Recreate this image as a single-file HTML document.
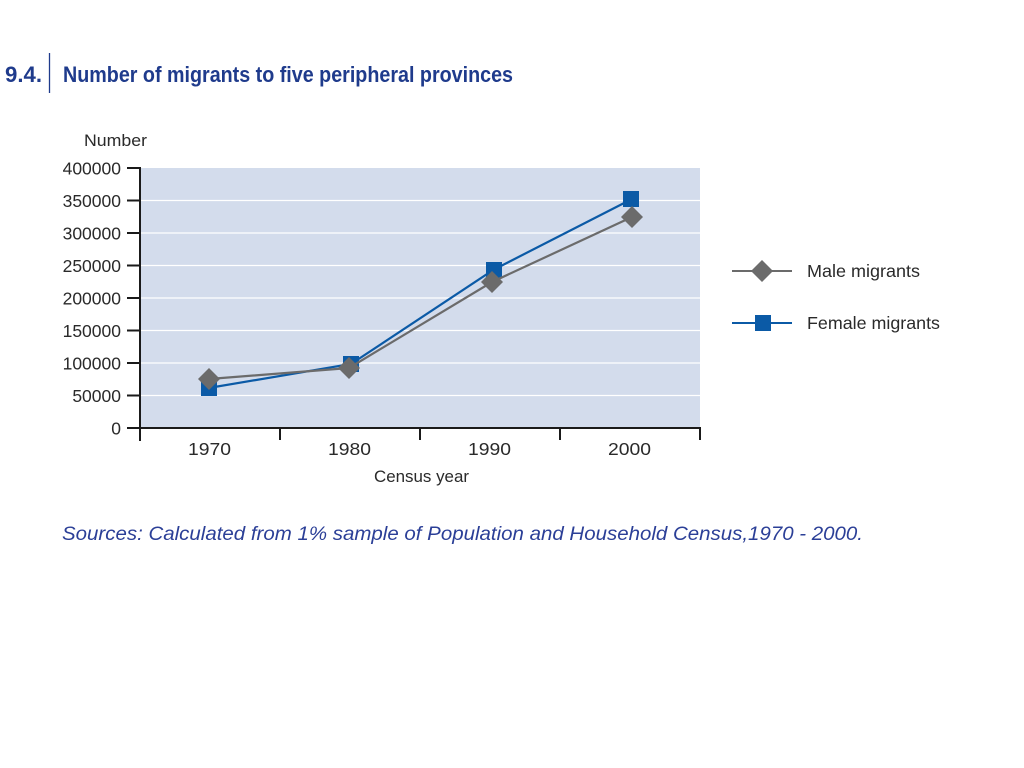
<!DOCTYPE html>
<html>
<head>
<meta charset="utf-8">
<style>
html,body{margin:0;padding:0;background:#fff;}
svg{display:block;}
</style>
</head>
<body>
<svg width="1024" height="768" viewBox="0 0 1024 768" xmlns="http://www.w3.org/2000/svg" font-family="Liberation Sans, sans-serif">
  <!-- Title -->
  <text x="5" y="82" font-size="22" font-weight="bold" fill="#1f3b8c" textLength="37" lengthAdjust="spacingAndGlyphs">9.4.</text>
  <line x1="49.5" y1="53" x2="49.5" y2="93" stroke="#1f3b8c" stroke-width="1.3"/>
  <text x="63" y="82" font-size="22" font-weight="bold" fill="#1f3b8c" textLength="450" lengthAdjust="spacingAndGlyphs">Number of migrants to five peripheral provinces</text>

  <!-- Plot background -->
  <rect x="140" y="168" width="560" height="260" fill="#d3dcec"/>
  <!-- gridlines -->
  <g stroke="#ffffff" stroke-width="1.3">
    <line x1="141" y1="200.5" x2="700" y2="200.5"/>
    <line x1="141" y1="233" x2="700" y2="233"/>
    <line x1="141" y1="265.5" x2="700" y2="265.5"/>
    <line x1="141" y1="298" x2="700" y2="298"/>
    <line x1="141" y1="330.5" x2="700" y2="330.5"/>
    <line x1="141" y1="363" x2="700" y2="363"/>
    <line x1="141" y1="395.5" x2="700" y2="395.5"/>
  </g>

  <!-- axes -->
  <g stroke="#1a1a1a" stroke-width="2">
    <line x1="140" y1="167" x2="140" y2="441"/>
    <line x1="139" y1="428" x2="701" y2="428"/>
    <line x1="127" y1="168" x2="140" y2="168"/>
    <line x1="127" y1="200.5" x2="140" y2="200.5"/>
    <line x1="127" y1="233" x2="140" y2="233"/>
    <line x1="127" y1="265.5" x2="140" y2="265.5"/>
    <line x1="127" y1="298" x2="140" y2="298"/>
    <line x1="127" y1="330.5" x2="140" y2="330.5"/>
    <line x1="127" y1="363" x2="140" y2="363"/>
    <line x1="127" y1="395.5" x2="140" y2="395.5"/>
    <line x1="127" y1="428" x2="140" y2="428"/>
    <line x1="280" y1="428" x2="280" y2="440"/>
    <line x1="420" y1="428" x2="420" y2="440"/>
    <line x1="560" y1="428" x2="560" y2="440"/>
    <line x1="700" y1="428" x2="700" y2="440"/>
  </g>

  <!-- y labels -->
  <g font-size="17.5" fill="#2a2a2a" text-anchor="end">
    <text x="121" y="174.5">400000</text>
    <text x="121" y="207">350000</text>
    <text x="121" y="239.5">300000</text>
    <text x="121" y="272">250000</text>
    <text x="121" y="304.5">200000</text>
    <text x="121" y="337">150000</text>
    <text x="121" y="369.5">100000</text>
    <text x="121" y="402">50000</text>
    <text x="121" y="434.5">0</text>
  </g>
  <text x="84" y="146" font-size="17" fill="#2a2a2a" textLength="63" lengthAdjust="spacingAndGlyphs">Number</text>

  <!-- x labels -->
  <g font-size="17.5" fill="#2a2a2a">
    <text x="188" y="455" textLength="43" lengthAdjust="spacingAndGlyphs">1970</text>
    <text x="328" y="455" textLength="43" lengthAdjust="spacingAndGlyphs">1980</text>
    <text x="468" y="455" textLength="43" lengthAdjust="spacingAndGlyphs">1990</text>
    <text x="608" y="455" textLength="43" lengthAdjust="spacingAndGlyphs">2000</text>
  </g>
  <text x="374" y="482" font-size="17" fill="#2a2a2a" textLength="95" lengthAdjust="spacingAndGlyphs">Census year</text>

  <!-- Female series -->
  <polyline points="208.5,388 351,364 494,269.5 631,199.5" fill="none" stroke="#0b5aa6" stroke-width="2.2"/>
  <g fill="#0b5aa6">
    <rect x="201" y="380" width="16" height="16"/>
    <rect x="343" y="356" width="16" height="16"/>
    <rect x="486" y="262" width="16" height="16"/>
    <rect x="623" y="191" width="16" height="16"/>
  </g>

  <!-- Male series -->
  <polyline points="209,379 349,368 492,282 632,217" fill="none" stroke="#6b6b6b" stroke-width="2.2"/>
  <g fill="#6b6b6b">
    <polygon points="209,368 220,379 209,390 198,379"/>
    <polygon points="349,357 360,368 349,379 338,368"/>
    <polygon points="492,271 503,282 492,293 481,282"/>
    <polygon points="632,206 643,217 632,228 621,217"/>
  </g>

  <!-- Legend -->
  <line x1="732" y1="271" x2="792" y2="271" stroke="#6b6b6b" stroke-width="2"/>
  <polygon points="762,260 773,271 762,282 751,271" fill="#6b6b6b"/>
  <text x="807" y="277" font-size="17.5" fill="#2a2a2a" textLength="113" lengthAdjust="spacingAndGlyphs">Male migrants</text>
  <line x1="732" y1="323" x2="792" y2="323" stroke="#0b5aa6" stroke-width="2"/>
  <rect x="755" y="315" width="16" height="16" fill="#0b5aa6"/>
  <text x="807" y="329" font-size="17.5" fill="#2a2a2a" textLength="133" lengthAdjust="spacingAndGlyphs">Female migrants</text>

  <!-- Sources -->
  <text x="62" y="540" font-size="19" font-style="italic" fill="#2b3f97" textLength="801" lengthAdjust="spacingAndGlyphs">Sources: Calculated from 1% sample of Population and Household Census,1970 - 2000.</text>
</svg>
</body>
</html>
